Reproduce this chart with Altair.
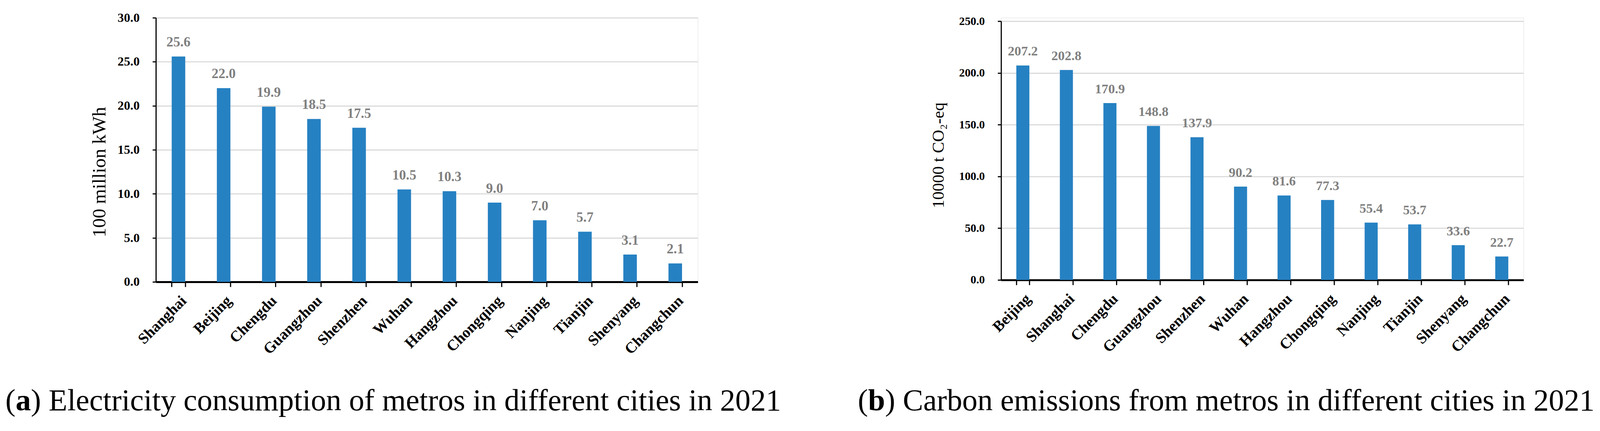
import altair as alt
import pandas as pd

# ---------------- data ----------------
cities_a = ["Shanghai", "Beijing", "Chengdu", "Guangzhou", "Shenzhen", "Wuhan",
            "Hangzhou", "Chongqing", "Nanjing", "Tianjin", "Shenyang", "Changchun"]
values_a = [25.6, 22.0, 19.9, 18.5, 17.5, 10.5, 10.3, 9.0, 7.0, 5.7, 3.1, 2.1]
yticks_a = [0, 5, 10, 15, 20, 25, 30]
ytitle_a = "100 million kWh"
caption_a = ["(", "a", ") Electricity consumption of metros in different cities in 2021"]

cities_b = ["Beijing", "Shanghai", "Chengdu", "Guangzhou", "Shenzhen", "Wuhan",
            "Hangzhou", "Chongqing", "Nanjing", "Tianjin", "Shenyang", "Changchun"]
values_b = [207.2, 202.8, 170.9, 148.8, 137.9, 90.2, 81.6, 77.3, 55.4, 53.7, 33.6, 22.7]
yticks_b = [0, 50, 100, 150, 200, 250]
ytitle_b = "10000 t CO\u2082-eq"
caption_b = ["(", "b", ") Carbon emissions from metros in different cities in 2021"]

SERIF = "Liberation Serif"
BAR = "#2681C2"
GRID = "#DADADA"
LABEL_GRAY = "#808080"
ROW_H = 692
CAP_SIZE = 80


def panel(cities, values, yticks, ymax, width, yrange, x_offset, ytitle, title_size,
          title_pad, title_y, tick_size, value_size, caption, cap_x, cap_y):
    df = pd.DataFrame({"city": cities, "value": values})
    if yrange is not None:
        yscale = alt.Scale(domain=[0, ymax], nice=False, range=yrange)
    else:
        yscale = alt.Scale(domain=[0, ymax], nice=False)
    x = alt.X("city:N", sort=cities,
              scale=alt.Scale(paddingInner=0.7, paddingOuter=0.35),
              axis=alt.Axis(title=None, labelAngle=-45, labelFont=SERIF,
                            labelFontWeight="bold", labelFontSize=40,
                            labelColor="black", labelLimit=600,
                            domainColor="black", domainWidth=5,
                            tickColor="black", tickWidth=3, tickSize=13,
                            tickBand="extent", labelPadding=16, grid=False,
                            offset=x_offset))
    y = alt.Y("value:Q", scale=yscale,
              axis=alt.Axis(values=yticks, format=".1f", title=ytitle,
                            titleFont=SERIF, titleFontWeight="normal",
                            titleFontSize=title_size, titleColor="black",
                            titlePadding=title_pad, titleY=title_y,
                            labelFont=SERIF, labelFontWeight="bold",
                            labelFontSize=tick_size, labelColor="black",
                            labelPadding=34, domainColor="black", domainWidth=3,
                            tickColor="black", tickWidth=3, tickSize=9,
                            grid=True, gridColor=GRID, gridWidth=3))
    base = alt.Chart(df)
    bars = base.mark_bar(color=BAR).encode(x=x, y=y)
    labels = base.mark_text(dy=-26, baseline="alphabetic", font=SERIF,
                            fontWeight="bold", fontSize=value_size,
                            color=LABEL_GRAY).encode(
        x=alt.X("city:N", sort=cities), y=alt.Y("value:Q"),
        text=alt.Text("value:Q", format=".1f"))

    w_paren = 0.333 * CAP_SIZE
    w_bold = 0.556 * CAP_SIZE if caption[1] == "b" else 0.5 * CAP_SIZE
    xs = [cap_x, cap_x + w_paren, cap_x + w_paren + w_bold]
    weights = ["normal", "bold", "normal"]
    caps = []
    for txt, xx, wt in zip(caption, xs, weights):
        caps.append(
            alt.Chart(pd.DataFrame({"t": [txt]})).mark_text(
                align="left", baseline="alphabetic", font=SERIF,
                fontSize=CAP_SIZE, fontWeight=wt, color="black").encode(
                x=alt.value(xx), y=alt.value(cap_y), text="t:N"))
    return alt.layer(bars, labels, *caps).properties(width=width, height=ROW_H)


left = panel(cities_a, values_a, yticks_a, 30, 1419, None, 0, ytitle_a, 50, 22, 404,
             33, 36, caption_a, -394, 1029)
right = panel(cities_b, values_b, yticks_b, 250, 1368, [687, 9], -5, ytitle_b, 44, 31, 360,
              30, 35, caption_b, -375, 1029)

chart = alt.hconcat(left, right, spacing=794, bounds="flush").properties(
    padding={"left": 5, "top": 9, "right": 5, "bottom": 5}
).configure_view(stroke=None).configure(background="white")

chart.save("out.html", embed_options={"renderer": "svg", "actions": False})
